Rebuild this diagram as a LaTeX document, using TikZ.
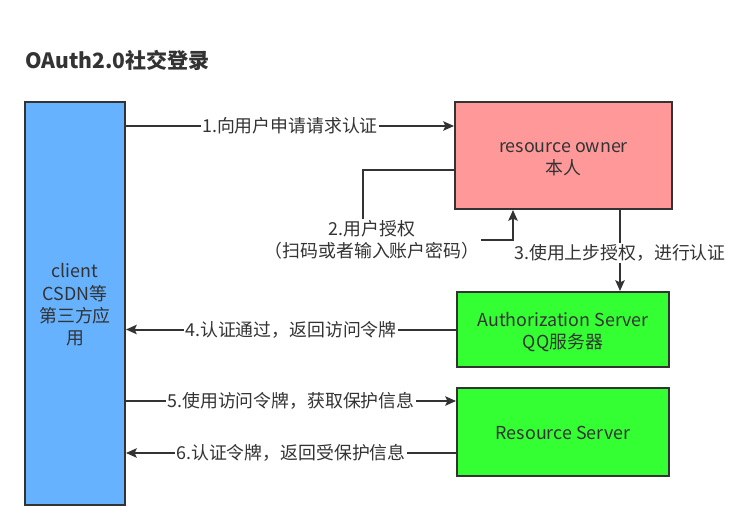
\documentclass[tikz,border=0pt]{standalone}
\usepackage{fontspec}
\setmainfont{Noto Sans CJK SC}
\usetikzlibrary{arrows.meta}
\definecolor{tx}{HTML}{333333}
\definecolor{clientblue}{HTML}{66B2FF}
\definecolor{ownerred}{HTML}{FF9999}
\definecolor{srvgreen}{HTML}{33FF33}
\newcommand\bxtext[1]{\raisebox{-2.5pt}[\height][\depth]{\begin{tabular}{@{}c@{}}#1\end{tabular}}}
\begin{document}
\begin{tikzpicture}[x=0.75pt,y=-0.75pt,
  box/.style={draw=tx, line width=1.5pt, text=tx, inner sep=2pt,
    font=\fontsize{13.4}{16.8}\selectfont},
  lab/.style={fill=white, inner sep=1pt, text=tx, align=center,
    font=\fontsize{13.4}{16.8}\selectfont},
  ln/.style={draw=tx, line width=1.5pt},
  arr/.style={ln, -{Stealth[length=8pt,width=7pt,inset=1.5pt]}}]
\useasboundingbox[fill=white] (0,0) rectangle (741,531);
\node[anchor=west, inner sep=0, text=tx, font=\bfseries\fontsize{15.8}{19}\selectfont] (title) at (25,60) {OAuth2.0社交登录};
\node[box, fill=clientblue, minimum width=75pt, minimum height=302.25pt] (client) at (75,303.5) {\bxtext{client\\CSDN等\\第三方应\\用}};
\node[box, fill=ownerred, minimum width=162.75pt, minimum height=80.25pt] (owner) at (563.5,155.5) {\bxtext{resource owner\\本人}};
\node[box, fill=srvgreen, minimum width=159pt, minimum height=56.25pt] (auth) at (563,329.5) {\bxtext{Authorization Server\\QQ服务器}};
\node[box, fill=srvgreen, minimum width=159pt, minimum height=66pt] (rs) at (563,432) {\bxtext{Resource Server}};
\coordinate (y1) at (0,126);
\coordinate (y2) at (0,170);
\coordinate (x2) at (363,0);
\coordinate (x2b) at (513,0);
\coordinate (x3) at (620,0);
\coordinate (y5) at (0,401);
\coordinate (y6) at (0,453);
\draw[arr] (client.east |- y1) -- node[lab] {1.向用户申请请求认证} (owner.west |- y1);
\node[lab, fill=none] (lab2) at (372,240) {2.用户授权\\（扫码或者输入账户密码）};
\draw[ln] (owner.west |- y2) -| (lab2.north -| x2);
\draw[arr] (lab2.east) -| (owner.south -| x2b);
\draw[arr] (owner.south -| x3) -- node[lab, pos=0.53] {3.使用上步授权，进行认证} (auth.north -| x3);
\draw[arr] (auth.west) -- node[lab] {4.认证通过，返回访问令牌} (client.east |- auth.west);
\draw[arr] (client.east |- y5) -- node[lab] {5.使用访问令牌，获取保护信息} (rs.west |- y5);
\draw[arr] (rs.west |- y6) -- node[lab] {6.认证令牌，返回受保护信息} (client.east |- y6);
\end{tikzpicture}
\end{document}
